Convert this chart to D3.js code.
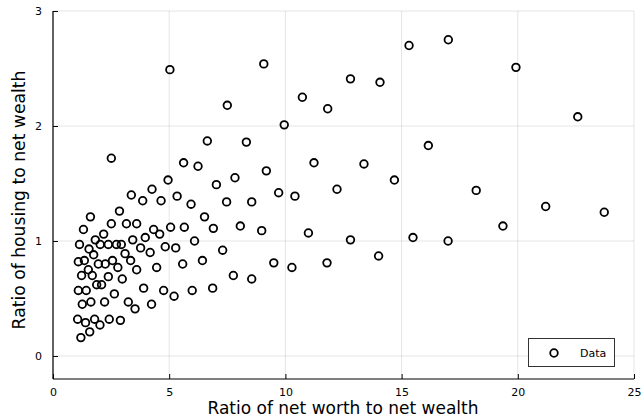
<!DOCTYPE html>
<html><head><meta charset="utf-8">
<script src="https://cdn.jsdelivr.net/npm/d3@7"></script>
<style>body{margin:0;background:#fff}svg{display:block;font-family:"DejaVu Sans",sans-serif}</style>
</head><body><svg id="c" width="642" height="419"></svg>
<script>
const netWorthRatio = [5.03,9.07,15.32,17.01,19.92,12.80,14.07,22.58,7.50,10.73,11.82,9.95,6.64,8.32,16.15,2.51,5.62,6.24,11.23,13.38,9.18,4.95,7.03,7.83,14.69,4.26,9.71,10.41,12.22,18.21,4.65,5.34,5.94,7.47,8.55,3.37,3.86,6.52,21.20,23.72,19.36,2.86,1.61,1.31,2.51,3.16,3.60,4.33,5.06,5.65,6.90,8.06,8.98,10.99,12.80,15.49,17.00,14.01,4.59,3.97,4.83,5.28,6.09,7.30,4.18,4.46,5.58,6.43,9.50,10.28,11.79,7.76,8.55,4.76,5.21,5.99,6.87,4.24,2.18,1.82,1.14,2.03,2.38,2.73,2.94,3.43,1.55,1.75,3.10,3.34,3.77,1.09,1.35,1.95,2.25,2.56,2.79,3.60,1.52,1.23,1.69,2.38,2.98,1.09,1.43,1.88,2.09,2.64,3.90,1.26,1.63,2.22,3.24,3.53,1.06,1.40,1.79,2.02,2.42,2.90,1.20,1.58];
const housingRatio = [2.49,2.54,2.70,2.75,2.51,2.41,2.38,2.08,2.18,2.25,2.15,2.01,1.87,1.86,1.83,1.72,1.68,1.65,1.68,1.67,1.61,1.53,1.49,1.55,1.53,1.45,1.42,1.39,1.45,1.44,1.35,1.39,1.32,1.34,1.34,1.40,1.35,1.21,1.30,1.25,1.13,1.26,1.21,1.10,1.15,1.15,1.15,1.10,1.12,1.12,1.11,1.13,1.09,1.07,1.01,1.03,1.00,0.87,1.06,1.03,0.95,0.94,1.00,0.92,0.90,0.77,0.80,0.83,0.81,0.77,0.81,0.70,0.67,0.57,0.52,0.57,0.59,0.45,1.06,1.01,0.97,0.97,0.97,0.97,0.97,1.01,0.93,0.88,0.89,0.83,0.94,0.82,0.83,0.80,0.80,0.83,0.77,0.75,0.75,0.70,0.70,0.69,0.67,0.57,0.57,0.62,0.62,0.54,0.59,0.45,0.47,0.47,0.47,0.41,0.32,0.29,0.32,0.27,0.32,0.31,0.16,0.21];
const xTicks = [0,5,10,15,20,25];
const yTicks = [0,1,2,3];
const xLabel = "Ratio of net worth to net wealth";
const yLabel = "Ratio of housing to net wealth";
const seriesName = "Data";

const svg = d3.select("#c");
const L=53,R=634,T=11,B=379;
const x = d3.scaleLinear().domain([0,25]).range([L,R]);
const y = d3.scaleLinear().domain([-0.2,3]).range([B,T]);

// grid
svg.append("g").selectAll("line").data(xTicks).join("line")
  .attr("x1",d=>x(d)).attr("x2",d=>x(d)).attr("y1",T).attr("y2",B)
  .attr("stroke","#000").attr("stroke-opacity",0.1).attr("stroke-width",1);
svg.append("g").selectAll("line").data(yTicks).join("line")
  .attr("x1",L).attr("x2",R).attr("y1",d=>y(d)).attr("y2",d=>y(d))
  .attr("stroke","#000").attr("stroke-opacity",0.1).attr("stroke-width",1);

// axes
const xa = svg.append("g").attr("transform",`translate(0,${B})`)
  .call(d3.axisBottom(x).tickValues(xTicks).tickSize(-5).tickPadding(9).tickFormat(d3.format("d")));
const ya = svg.append("g").attr("transform",`translate(${L},0)`)
  .call(d3.axisLeft(y).tickValues(yTicks).tickSize(-5).tickPadding(11).tickFormat(d3.format("d")));
[xa,ya].forEach(g=>{
  g.select(".domain").attr("stroke","#000").attr("stroke-width",1.2);
  g.selectAll(".tick line").attr("stroke","#000").attr("stroke-width",1);
  g.selectAll("text").attr("font-size",11).attr("fill","#000").attr("font-family","DejaVu Sans, sans-serif");
});
xa.select(".domain").attr("d",`M${L},0H${R}`);
ya.select(".domain").attr("d",`M0,${B}V${T}`);

// labels
svg.append("text").attr("x",343).attr("y",414).attr("text-anchor","middle")
  .attr("font-size",17).text(xLabel);
svg.append("text").attr("transform",`translate(25,200) rotate(-90)`).attr("text-anchor","middle")
  .attr("font-size",17.2).text(yLabel);

// points
const pts = netWorthRatio.map((v,i)=>[v,housingRatio[i]]);
svg.append("g").selectAll("circle").data(pts).join("circle")
  .attr("cx",d=>x(d[0])).attr("cy",d=>y(d[1])).attr("r",3.8)
  .attr("fill","none").attr("stroke","#000").attr("stroke-width",1.8);

// legend
const lg = svg.append("g");
lg.append("rect").attr("x",528.5).attr("y",338.5).attr("width",86).attr("height",28)
  .attr("fill","#fff").attr("stroke","#333").attr("stroke-width",1);
lg.append("circle").attr("cx",554).attr("cy",353).attr("r",3.8)
  .attr("fill","none").attr("stroke","#000").attr("stroke-width",1.8);
lg.append("text").attr("x",580).attr("y",357).attr("font-size",11).text(seriesName);
</script></body></html>
